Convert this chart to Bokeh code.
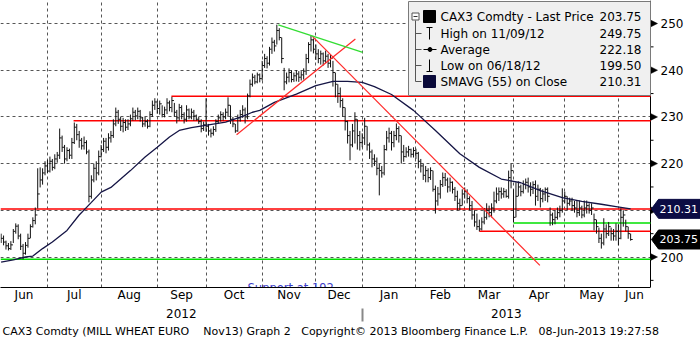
import numpy as np
from bokeh.plotting import figure
from bokeh.models import Range1d, LinearAxis, FixedTicker, Title
from bokeh.core.properties import value
from bokeh.embed import file_html
from bokeh.resources import INLINE

# ---------------- data (trading-day index 0 = early June 2012) ----------------
closes = [
    204.0, 203.2, 202.4, 201.8, 202.6, 205.5, 206.6, 204.5, 202.3, 200.8,
    202.5, 204.0, 206.5, 207.8, 209.0, 213.5, 216.5, 218.0, 219.5, 218.4,
    220.5, 219.2, 221.0, 221.8, 225.5, 223.5, 221.0, 222.8, 221.8, 224.5,
    227.8, 226.2, 225.0, 223.8, 224.5, 222.5, 213.0, 216.5, 219.0, 218.0,
    221.5, 223.0, 224.8, 223.5, 225.5, 226.0, 228.5, 231.0, 229.5, 228.0,
    228.8, 227.8, 228.5, 229.6, 231.0, 230.2, 231.2, 229.8, 228.5, 229.0,
    228.0, 230.5, 232.5, 233.2, 231.8, 232.8, 230.5, 231.5, 233.0, 232.0,
    233.5, 231.0, 229.8, 232.0, 230.5, 229.5, 231.5, 230.0, 231.0, 230.2,
    229.5, 229.0, 227.5, 228.3, 228.0, 227.0, 226.5, 227.3, 229.0, 229.8,
    230.5, 230.0, 231.0, 232.5, 229.5, 228.5, 227.0, 229.8, 230.5, 231.5,
    230.0, 234.5, 237.0, 238.5, 237.5, 239.0, 238.2, 241.0, 242.5, 241.5,
    244.5, 246.0, 245.2, 248.5, 247.0, 242.5, 237.5, 238.5, 239.5, 238.0,
    238.8, 239.2, 238.5, 239.0, 239.8, 242.5, 245.5, 246.5, 244.5, 243.5,
    242.5, 243.5, 242.0, 243.0, 241.5, 242.5, 239.5, 237.0, 235.0, 233.5,
    232.0, 229.0, 226.0, 224.0, 227.0, 229.5, 226.0, 224.5, 225.5, 228.0,
    224.0, 222.5, 221.0, 220.5, 219.0, 218.5, 218.0, 223.0, 225.5, 226.5,
    224.5, 226.0, 227.5, 226.0, 222.5, 221.5, 222.5, 223.0, 222.0, 222.8,
    222.2, 220.5, 219.5, 217.5, 218.5, 217.0, 218.5, 214.5, 212.0, 213.5,
    215.5, 217.0, 216.5, 215.0, 216.0, 214.5, 213.0, 211.5, 211.0, 213.5,
    214.0, 212.5, 211.0, 209.0, 207.5, 206.5, 206.0, 207.5, 208.5, 210.0,
    209.5, 210.5, 212.0, 213.5, 214.0, 213.5, 214.0, 213.0, 217.0, 218.5,
    208.5, 213.0, 215.0, 214.0, 215.5, 216.0, 215.0, 214.5, 215.5, 213.0,
    214.5, 212.5, 213.5, 214.5, 213.0, 209.0, 208.0, 208.5, 209.5, 210.0,
    212.0, 213.0, 211.5, 212.0, 211.0, 210.5, 209.5, 210.5, 209.0, 210.5,
    211.0, 210.0, 210.5, 208.0, 206.5, 204.0, 203.0, 206.0, 205.0, 206.5,
    205.0, 204.5, 205.5, 204.0, 208.5, 209.0, 206.5, 205.0, 203.75,
]
highs = [
    205.0, 204.6, 203.5, 203.0, 203.4, 206.0, 207.2, 207.0, 205.0, 202.8,
    203.2, 205.0, 207.0, 208.5, 210.6, 219.0, 219.2, 219.0, 220.5, 220.8,
    221.5, 221.0, 222.0, 222.5, 227.5, 226.0, 224.0, 223.5, 223.2, 225.5,
    228.8, 228.5, 227.0, 225.5, 225.8, 225.0, 223.0, 217.5, 220.0, 220.5,
    222.8, 224.0, 225.5, 225.5, 226.5, 227.0, 229.5, 232.0, 231.5, 230.0,
    229.8, 229.5, 229.5, 230.5, 232.0, 231.5, 232.0, 231.5, 230.0, 230.0,
    229.5, 231.2, 233.5, 234.0, 233.5, 233.5, 232.5, 232.2, 234.0, 233.5,
    234.3, 233.0, 231.5, 232.8, 232.5, 231.0, 232.5, 231.8, 231.8, 231.5,
    230.5, 230.0, 229.5, 229.0, 234.0, 228.5, 227.5, 228.0, 229.5, 230.5,
    231.2, 231.0, 231.8, 234.2, 232.5, 230.0, 228.5, 230.5, 231.5, 232.5,
    232.0, 235.0, 238.0, 239.3, 239.0, 239.5, 239.3, 242.0, 243.5, 243.0,
    245.0, 247.0, 246.5, 249.75, 249.0, 247.0, 240.5, 239.5, 240.4, 240.0,
    239.5, 240.0, 239.8, 239.8, 240.4, 243.5, 246.0, 247.4, 246.8, 245.5,
    244.5, 244.2, 243.8, 244.2, 243.5, 243.3, 242.0, 239.5, 237.0, 236.3,
    234.0, 232.0, 229.2, 227.0, 228.5, 231.0, 229.5, 227.0, 226.5, 229.8,
    228.0, 224.5, 223.0, 222.0, 221.3, 220.0, 219.5, 224.0, 227.0, 227.7,
    227.0, 227.0, 228.6, 228.0, 226.0, 224.0, 223.5, 223.8, 223.2, 223.5,
    223.2, 222.5, 221.0, 220.0, 219.5, 219.0, 219.2, 218.5, 215.3, 215.0,
    216.5, 218.1, 218.0, 217.0, 217.0, 216.2, 215.0, 214.2, 212.5, 214.5,
    214.9, 214.5, 213.0, 212.0, 210.0, 209.3, 208.0, 208.5, 210.5, 211.5,
    211.0, 211.5, 214.0, 214.9, 214.9, 214.9, 214.8, 214.5, 218.5, 220.0,
    214.5, 216.0, 216.2, 215.5, 216.4, 216.8, 217.0, 216.0, 216.2, 216.4,
    215.5, 214.8, 214.5, 214.9, 214.9, 210.6, 209.5, 210.0, 210.6, 211.0,
    214.7, 214.0, 213.0, 212.7, 212.7, 212.0, 212.1, 212.1, 211.0, 212.1,
    212.1, 211.5, 211.5, 209.3, 208.0, 206.3, 205.0, 208.3, 207.0, 207.5,
    206.3, 206.0, 207.2, 207.0, 210.4, 210.0, 208.0, 206.5, 205.0,
]
lows = [
    203.0, 202.5, 201.6, 201.4, 201.5, 203.0, 205.0, 203.8, 201.5, 199.5,
    200.5, 202.0, 204.0, 206.3, 207.0, 210.4, 214.9, 215.5, 217.5, 218.0,
    218.1, 218.5, 218.8, 220.2, 221.0, 222.5, 220.0, 220.5, 221.0, 221.0,
    224.2, 225.0, 223.4, 223.0, 223.0, 222.0, 211.7, 212.5, 216.0, 216.4,
    217.5, 221.3, 222.5, 222.2, 222.8, 224.5, 225.5, 228.0, 228.5, 227.0,
    226.7, 227.0, 227.2, 228.0, 229.2, 229.3, 229.5, 229.0, 227.8, 227.9,
    227.5, 227.8, 230.0, 231.5, 230.7, 230.5, 229.9, 229.9, 230.6, 231.2,
    231.0, 230.0, 228.6, 229.2, 229.5, 228.6, 229.0, 229.5, 229.5, 229.2,
    229.2, 228.5, 226.7, 227.0, 226.8, 226.0, 225.6, 226.0, 226.8, 228.5,
    229.0, 229.2, 229.5, 230.0, 228.5, 227.8, 226.6, 226.8, 229.0, 229.8,
    228.6, 229.5, 234.2, 236.5, 237.0, 237.2, 237.4, 237.8, 240.5, 240.4,
    241.0, 243.5, 244.0, 245.5, 246.4, 241.5, 235.7, 237.0, 237.4, 237.4,
    237.5, 237.6, 237.5, 237.8, 238.0, 239.0, 241.5, 244.0, 243.6, 242.2,
    241.5, 241.2, 241.0, 241.5, 240.5, 240.6, 236.5, 234.2, 233.0, 232.0,
    230.0, 227.1, 224.3, 220.7, 223.5, 224.3, 223.0, 222.8, 223.5, 224.0,
    222.8, 221.0, 219.2, 219.5, 217.5, 213.2, 217.0, 217.5, 222.8, 224.5,
    222.8, 223.5, 225.0, 224.5, 220.0, 220.4, 221.3, 221.5, 221.3, 221.3,
    221.0, 219.0, 218.1, 216.5, 216.0, 216.0, 216.5, 214.0, 209.3, 211.0,
    212.5, 215.0, 215.2, 213.8, 214.0, 213.6, 212.0, 210.0, 210.0, 211.0,
    212.5, 211.5, 210.0, 208.0, 206.5, 205.8, 205.5, 205.7, 207.0, 208.0,
    208.5, 208.5, 209.5, 211.5, 212.0, 212.5, 212.7, 212.7, 212.5, 214.7,
    207.4, 208.5, 213.0, 213.0, 213.6, 214.5, 213.8, 213.0, 213.5, 211.0,
    212.0, 210.6, 211.7, 212.0, 211.7, 206.7, 206.8, 207.0, 208.0, 208.5,
    209.5, 211.5, 210.0, 211.0, 210.0, 209.5, 208.5, 208.8, 208.3, 208.5,
    209.3, 209.3, 209.0, 205.7, 205.0, 203.0, 201.8, 202.5, 204.0, 204.5,
    203.5, 203.5, 203.5, 202.5, 203.8, 206.5, 205.5, 203.9, 203.5,
]

# 55-day simple moving average at sample days
sma_day = [0, 5, 10, 13, 17, 21, 27, 32, 37, 41, 45, 49, 53, 59, 64, 69, 73, 78, 85,
           92, 99, 103, 106, 112, 121, 129, 136, 142, 148, 153, 160, 169, 178, 188,
           196, 205, 213, 221, 230, 238, 246, 252, 258]
sma_val = [198.9, 199.4, 200.0, 200.2, 201.8, 203.2, 205.7, 209.0, 211.7, 213.9, 214.9,
           216.7, 218.5, 221.4, 223.5, 225.7, 227.1, 227.7, 228.3, 228.9, 230.1, 231.0,
           231.4, 233.1, 234.9, 236.7, 237.6, 237.6, 237.4, 236.5, 234.8, 231.4, 227.1,
           222.1, 219.2, 216.7, 215.9, 214.2, 212.7, 211.9, 211.3, 210.8, 210.31]

# first trading day of each month Jul-2012 .. Jun-2013
month_starts = [19, 41, 64, 84, 107, 129, 148, 170, 190, 210, 231, 253]
month_labels = ["Jun", "Jul", "Aug", "Sep", "Oct", "Nov", "Dec",
                "Jan", "Feb", "Mar", "Apr", "May", "Jun"]
year_labels = ["2012", "2013"]
year_start_2013 = 148
price_ticks = [200, 210, 220, 230, 240, 250]
price_minor = [195, 205, 215, 225, 235, 245]

# drawn analysis lines (price level, start day)
red_levels = [229.2, 234.4, 210.3, 205.5]
red_level_start = [29.7, 69.8, -0.25, 196.0]
green_levels = [199.5, 207.3]
green_level_start = [-0.25, 210.0]
# trend lines: (day0, price0) -> (day1, price1)
red_trend_x0 = [96.5, 127.5]
red_trend_y0 = [226.2, 247.3]
red_trend_x1 = [145.2, 220.8]
red_trend_y1 = [246.7, 198.2]
green_trend_x0 = [113.6]
green_trend_y0 = [249.7]
green_trend_x1 = [148.2]
green_trend_y1 = [243.8]
support_label = "Support at 192"
support_day, support_price = 101, 193.4

legend_labels = ["CAX3 Comdty - Last Price", "High on 11/09/12", "Average",
                 "Low on 06/18/12", "SMAVG (55) on Close"]
legend_values = ["203.75", "249.75", "222.18", "199.50", "210.31"]
tag_values = [210.31, 203.75]

footer = ("CAX3 Comdty (MILL WHEAT EURO\u00a0\u00a0\u00a0 Nov13) Graph 2\u00a0\u00a0 "
          "Copyright\u00a9 2013 Bloomberg Finance L.P.\u00a0\u00a0 08-Jun-2013 19:27:58")

# ---------------- figure ----------------
FONT = "DejaVu Sans"
FW, FH = 700, 287          # frame spans the whole width; price scale drawn at px 650
X0 = -0.25
PX_PER_DAY = 2.44
XR_END = X0 + 650 / PX_PER_DAY     # right edge of the price area (day units)
X1 = X0 + FW / PX_PER_DAY
Y0, Y1 = 193.47, 254.93


def dx(px):
    return X0 + px / PX_PER_DAY


def dy(py):
    return Y1 - py * (Y1 - Y0) / FH


def hpx(n):
    return n * (Y1 - Y0) / FH


p = figure(width=700, height=339, x_range=Range1d(X0, X1), y_range=Range1d(Y0, Y1),
           output_backend="svg", toolbar_location=None, y_axis_location=None,
           min_border_left=0, min_border_top=0, min_border_right=0, min_border_bottom=52)
p.outline_line_color = None
p.background_fill_color = "white"
p.border_fill_color = "white"

# grids
p.xgrid.ticker = FixedTicker(ticks=month_starts)
p.xgrid.grid_line_color = "#555555"
p.xgrid.grid_line_dash = "3 3"
use_grid = True
try:
    p.ygrid.ticker = FixedTicker(ticks=price_ticks)
    p.ygrid.cross_bounds = (X0, XR_END)
    p.ygrid.grid_line_color = "#555555"
    p.ygrid.grid_line_dash = "3 3"
except Exception:
    use_grid = False
    p.ygrid.visible = False
if not use_grid:
    p.segment(x0=[X0] * len(price_ticks), y0=price_ticks, x1=[XR_END] * len(price_ticks),
              y1=price_ticks, line_color="#555555", line_dash="3 3", line_width=1)

# month axis
bounds = [X0] + month_starts + [XR_END]
mids = [round((bounds[i] + bounds[i + 1]) / 2, 3) for i in range(len(bounds) - 1)]
xa = p.xaxis[0]
xa.ticker = FixedTicker(ticks=mids)
xa.bounds = (X0, XR_END)
xa.major_label_overrides = {m: l for m, l in zip(mids, month_labels)}
xa.axis_line_color = "black"
xa.major_tick_out = 0
xa.major_tick_in = 0
xa.minor_tick_out = 0
xa.minor_tick_in = 0
xa.major_label_standoff = 0
xa.major_label_text_font = FONT
xa.major_label_text_font_size = "12px"
xa.major_label_text_color = "black"

# year axis
ymids = [round((X0 + year_start_2013) / 2, 3), round((year_start_2013 + XR_END) / 2, 3)]
yr = LinearAxis(ticker=FixedTicker(ticks=ymids, minor_ticks=[year_start_2013]),
                major_label_overrides={m: l for m, l in zip(ymids, year_labels)})
yr.axis_line_color = None
yr.major_tick_out = 0
yr.major_tick_in = 0
yr.minor_tick_out = 17
yr.minor_tick_in = -4
yr.minor_tick_line_color = "#888888"
yr.minor_tick_line_width = 2
yr.major_label_standoff = -13
yr.major_label_text_font = FONT
yr.major_label_text_font_size = "12px"
yr.major_label_text_color = "black"
p.add_layout(yr, "below")

ft = Title(text=footer, align="left", text_font=FONT, text_font_size="11px",
           text_font_style="normal", text_color="black", standoff=4, offset=2)
p.add_layout(ft, "below")

# price scale on the right of the price area
p.segment(x0=[XR_END], y0=[Y0], x1=[XR_END], y1=[Y1], line_color="black", line_width=1)
p.patches(xs=[[XR_END, XR_END, dx(657)] for _ in price_ticks],
          ys=[[t - hpx(3.5), t + hpx(3.5), t] for t in price_ticks],
          fill_color="black", line_color="black", line_width=0.5)
p.segment(x0=[XR_END] * len(price_minor), y0=price_minor, x1=[dx(653)] * len(price_minor),
          y1=price_minor, line_color="black", line_width=1)
p.text(x=[dx(660)] * len(price_ticks), y=price_ticks, text=[str(t) for t in price_ticks],
       text_font=value(FONT), text_font_size="12px", text_color="black",
       text_align="left", text_baseline="middle")

# drawn level lines
p.segment(x0=red_level_start, y0=red_levels, x1=[XR_END] * len(red_levels), y1=red_levels,
          line_color="#ff0000", line_width=1.5)
p.segment(x0=green_level_start, y0=green_levels, x1=[XR_END] * len(green_levels),
          y1=green_levels, line_color="#00e000", line_width=1.5)

# price bars
idx = np.arange(len(closes))
p.segment(x0=idx, y0=lows, x1=idx, y1=highs, line_color="#111111", line_width=1)
p.segment(x0=idx, y0=closes, x1=idx + 0.85, y1=closes, line_color="#111111", line_width=1)

# moving average
p.line(sma_day, sma_val, line_color="#151545", line_width=1.3)

# trend lines
p.segment(x0=red_trend_x0, y0=red_trend_y0, x1=red_trend_x1, y1=red_trend_y1,
          line_color="#ff2a2a", line_width=1.2)
p.segment(x0=green_trend_x0, y0=green_trend_y0, x1=green_trend_x1, y1=green_trend_y1,
          line_color="#33dd33", line_width=1.3)

p.text(x=[support_day], y=[support_price], text=[support_label], text_font=value(FONT),
       text_font_size="11.5px", text_color="#3c3cc8", text_align="left",
       text_baseline="alphabetic")

# ---------------- legend box ----------------
p.quad(left=[dx(408)], right=[XR_END], top=[dy(1)], bottom=[dy(95)],
       fill_color="#f0f0f0", line_color="#7a7a7a", line_width=1)
row_y = [16, 33, 49, 65, 81]
p.segment(x0=[dx(415)], y0=[dy(20)], x1=[dx(415)], y1=[dy(81)], line_color="#555555", line_width=1)
p.segment(x0=[dx(415)] * 4, y0=[dy(r) for r in row_y[1:]], x1=[dx(421)] * 4,
          y1=[dy(r) for r in row_y[1:]], line_color="#555555", line_width=1)
p.quad(left=[dx(411.5)], right=[dx(418.5)], top=[dy(12.5)], bottom=[dy(19.5)],
       fill_color="white", line_color="#555555", line_width=1)
p.segment(x0=[dx(413)], y0=[dy(16)], x1=[dx(417)], y1=[dy(16)], line_color="#333333", line_width=1)
p.quad(left=[dx(423)], right=[dx(435)], top=[dy(10)], bottom=[dy(22)], fill_color="black",
       line_color="black")
p.quad(left=[dx(423)], right=[dx(435)], top=[dy(75)], bottom=[dy(87)], fill_color="#0a0a3a",
       line_color="#0a0a3a")
p.segment(x0=[dx(429), dx(426), dx(423), dx(429), dx(426)],
          y0=[dy(27), dy(27), dy(49), dy(59), dy(71)],
          x1=[dx(429), dx(432), dx(436), dx(429), dx(432)],
          y1=[dy(39), dy(27), dy(49), dy(71), dy(71)], line_color="black", line_width=1)
p.scatter(x=[dx(429.5)], y=[dy(49)], size=4, marker="circle", fill_color="black", line_color="black")
p.text(x=[dx(440)] * 5, y=[dy(r) for r in row_y], text=legend_labels, text_font=value(FONT),
       text_font_size="12px", text_color="black", text_align="left", text_baseline="middle")
p.text(x=[dx(641)] * 5, y=[dy(r) for r in row_y], text=legend_values, text_font=value(FONT),
       text_font_size="12px", text_color="black", text_align="right", text_baseline="middle")

# ---------------- value tags on the price scale ----------------
tag_colors = ["#0c0c44", "#000000"]
p.patches(xs=[[dx(651), dx(658), X1, X1, dx(658)] for _ in tag_values],
          ys=[[v, v + hpx(9.5), v + hpx(9.5), v - hpx(9.5), v - hpx(9.5)] for v in tag_values],
          fill_color=tag_colors, line_color=tag_colors)
p.text(x=[dx(659)] * len(tag_values), y=tag_values, text=["%.2f" % v for v in tag_values],
       text_font=value(FONT), text_font_size="11px", text_color="white",
       text_align="left", text_baseline="middle")

open("out.html", "w").write(file_html(p, INLINE))
